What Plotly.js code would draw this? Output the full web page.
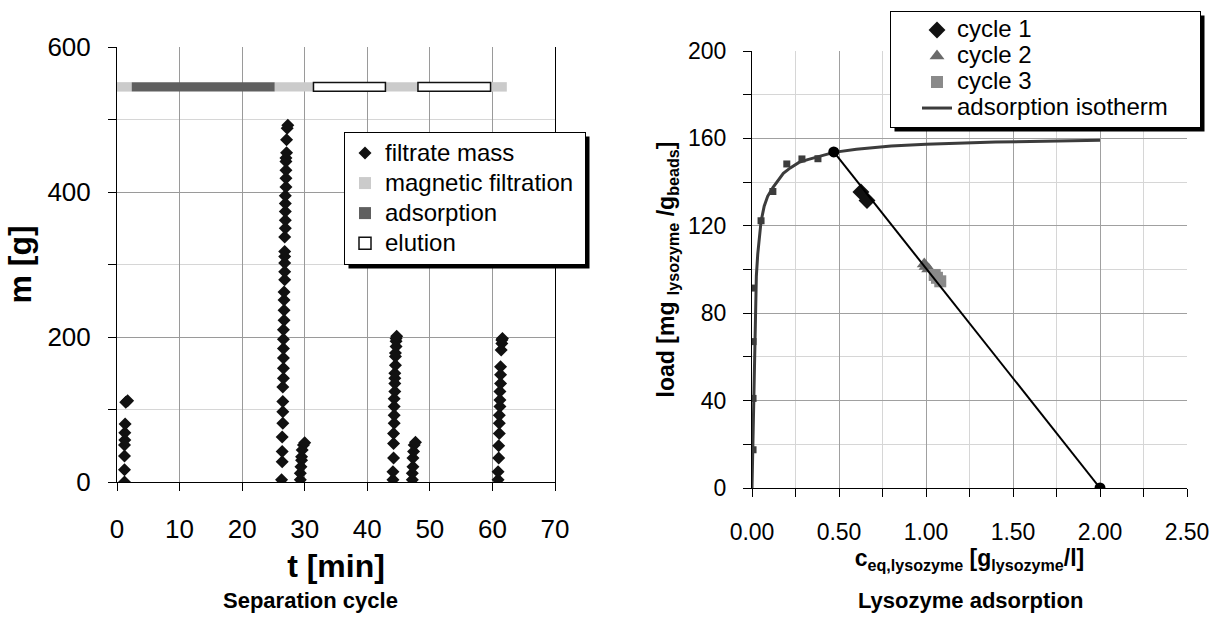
<!DOCTYPE html>
<html>
<head>
<meta charset="utf-8">
<script src="https://cdn.plot.ly/plotly-3.0.1.min.js"></script>
<style>html,body{margin:0;padding:0;background:#fff;} #chart{width:1220px;height:626px;}</style>
</head>
<body>
<div id="chart"></div>
<script>
// ---------- Left chart: separation cycle ----------
// filtrate mass runs (t in min, m in g)
const t1 = [1.2, 1.2, 1.2, 1.2, 1.25, 1.25, 1.3, 1.4, 1.7];
const m1 = [0, 17, 36, 51, 58, 68, 80, 110, 112];
const t2 = [26.3, 26.4, 26.4, 26.4, 26.5, 26.5, 26.5, 26.5, 26.6, 26.6, 26.6, 26.6, 26.6, 26.6, 26.7, 26.7, 26.7, 26.7, 26.8, 26.8, 26.8, 26.8, 26.8, 26.8, 26.9, 26.9, 26.9, 26.9, 26.9, 27.0, 27.0, 27.0, 27.0, 27.0, 27.1, 27.1, 27.2, 27.3];
const m2 = [3, 28, 42, 62, 81, 97, 111, 131, 143, 157, 171, 184, 197, 210, 223, 237, 251, 262, 279, 290, 302, 311, 318, 338, 350, 361, 373, 384, 395, 407, 419, 430, 442, 447, 454, 472, 488, 492];
const t3 = [29.3, 29.3, 29.4, 29.5, 29.5, 29.6, 29.8, 30.0];
const m3 = [3, 12, 21, 30, 35, 44, 51, 54];
const t4 = [44.1, 44.1, 44.2, 44.2, 44.2, 44.3, 44.3, 44.3, 44.3, 44.4, 44.4, 44.4, 44.4, 44.5, 44.5, 44.5, 44.6, 44.6, 44.6, 44.7];
const m4 = [3, 14, 33, 53, 67, 81, 92, 104, 115, 125, 136, 143, 150, 161, 173, 178, 187, 194, 198, 201];
const t5 = [47.2, 47.2, 47.3, 47.3, 47.4, 47.5, 47.7];
const m5 = [3, 12, 21, 33, 42, 51, 55];
const t6 = [60.9, 60.9, 61.0, 61.0, 61.1, 61.1, 61.1, 61.2, 61.2, 61.2, 61.3, 61.3, 61.3, 61.4, 61.5, 61.5, 61.6];
const m6 = [3, 14, 33, 50, 67, 81, 92, 104, 113, 125, 136, 148, 159, 182, 191, 196, 198];

// process phases (start / end in min)
const processLevel = 545;
const magneticStart = [0, 25.2, 42.9, 59.7];
const magneticEnd   = [2.35, 31.4, 48.1, 62.3];
const adsorptionStart = [2.35];
const adsorptionEnd   = [25.2];
const elutionStart = [31.4, 48.1];
const elutionEnd   = [42.9, 59.7];

// ---------- Right chart: lysozyme adsorption ----------
const cCycle1 = [0.626, 0.661];
const qCycle1 = [135.5, 131.6];
const cCycle2 = [0.99, 1.0, 1.015];
const qCycle2 = [102.5, 101.4, 100.2];
const cCycle3 = [1.05, 1.063, 1.082];
const qCycle3 = [97.5, 96.2, 94.6];
const cIso = [0, 0.003, 0.0075, 0.013, 0.0165, 0.019, 0.025, 0.033, 0.042, 0.052, 0.07, 0.09, 0.12, 0.15, 0.18, 0.22, 0.27, 0.32, 0.4, 0.47, 0.6, 0.8, 1.0, 1.2, 1.4, 1.6, 1.8, 2.0];
const qIso = [0, 14, 34, 58, 74, 86, 97, 107, 115, 122, 129, 133.5, 137.5, 141, 144, 146.5, 149, 150.3, 152.2, 153.6, 155, 156.5, 157.3, 157.9, 158.3, 158.6, 158.9, 159.2];
const cIsoData = [0.006, 0.006, 0.006, 0.006, 0.052, 0.12, 0.2, 0.287, 0.379];
const qIsoData = [17.5, 41, 67, 91.5, 122.3, 135.7, 148.3, 150.6, 150.7];
const cOperating = [0.47, 2.0];
const qOperating = [153.8, 0];

const FONT = 'Liberation Sans, Arial, sans-serif';
const W = 1220, H = 626;

function spans(starts, ends) { return ends.map((e, i) => e - starts[i]); }
function level(arr) { return arr.map(() => processLevel); }
function big(name, px) { return '<span style="font-size:' + px + 'px">' + name + '</span>'; }

const traces = [
  {
    type: 'scatter', mode: 'markers', name: big('filtrate mass', 24),
    x: [].concat(t1, t2, t3, t4, t5, t6), y: [].concat(m1, m2, m3, m4, m5, m6),
    marker: {symbol: 'diamond', size: 10, color: '#111'},
    xaxis: 'x', yaxis: 'y', legend: 'legend'
  },
  {
    type: 'bar', orientation: 'h', name: big('magnetic filtration&nbsp;', 24),
    base: magneticStart, x: spans(magneticStart, magneticEnd), y: level(magneticStart),
    width: 13, marker: {color: '#cbcbcb', line: {width: 0}},
    xaxis: 'x', yaxis: 'y', legend: 'legend'
  },
  {
    type: 'bar', orientation: 'h', name: big('adsorption', 24),
    base: adsorptionStart, x: spans(adsorptionStart, adsorptionEnd), y: level(adsorptionStart),
    width: 13, marker: {color: '#5f5f5f', line: {width: 0}},
    xaxis: 'x', yaxis: 'y', legend: 'legend'
  },
  {
    type: 'bar', orientation: 'h', name: big('elution', 24),
    base: elutionStart, x: spans(elutionStart, elutionEnd), y: level(elutionStart),
    width: 12, marker: {color: '#ffffff', line: {width: 1.5, color: '#111'}},
    xaxis: 'x', yaxis: 'y', legend: 'legend'
  },
  {
    type: 'scatter', mode: 'markers', name: big('cycle 1', 24),
    x: cCycle1, y: qCycle1, marker: {symbol: 'diamond', size: 13, color: '#111'},
    xaxis: 'x2', yaxis: 'y2', legend: 'legend2'
  },
  {
    type: 'scatter', mode: 'markers', name: big('cycle 2', 24),
    x: cCycle2, y: qCycle2, marker: {symbol: 'triangle-up', size: 13, color: '#6a6a6a'},
    xaxis: 'x2', yaxis: 'y2', legend: 'legend2'
  },
  {
    type: 'scatter', mode: 'markers', name: big('cycle 3', 24),
    x: cCycle3, y: qCycle3, marker: {symbol: 'square', size: 12, color: '#8a8a8a'},
    xaxis: 'x2', yaxis: 'y2', legend: 'legend2'
  },
  {
    type: 'scatter', mode: 'lines', name: big('adsorption isotherm&nbsp;&nbsp;&nbsp;&nbsp;', 24),
    x: cIso, y: qIso, line: {color: '#3c3c3c', width: 3},
    xaxis: 'x2', yaxis: 'y2', legend: 'legend2'
  },
  {
    type: 'scatter', mode: 'markers', name: 'isotherm data', showlegend: false,
    x: cIsoData, y: qIsoData, marker: {symbol: 'square', size: 7, color: '#3c3c3c'},
    xaxis: 'x2', yaxis: 'y2'
  },
  {
    type: 'scatter', mode: 'lines+markers', name: 'operating line', showlegend: false,
    x: cOperating, y: qOperating, line: {color: '#000', width: 2},
    marker: {symbol: 'circle', size: 11, color: '#000'},
    xaxis: 'x2', yaxis: 'y2'
  }
];

const axisCommon = {
  showline: true, linecolor: '#000', linewidth: 1, zeroline: false,
  ticks: 'outside', ticklen: 8, tickcolor: '#000', tickwidth: 1,
  showgrid: true, automargin: false, fixedrange: true
};

const layout = {
  width: W, height: H,
  margin: {l: 0, r: 0, t: 0, b: 0, pad: 0},
  paper_bgcolor: '#fff', plot_bgcolor: '#fff',
  font: {family: FONT, color: '#000'},
  barmode: 'overlay',
  showlegend: true,
  xaxis: Object.assign({}, axisCommon, {
    domain: [117 / W, 555 / W], range: [0, 70], dtick: 10, anchor: 'y',
    gridcolor: '#9a9a9a', tickfont: {size: 26}, ticklabelstandoff: 16,
    title: {text: '<b>t [min]</b>', font: {size: 32}, standoff: 11}
  }),
  yaxis: Object.assign({}, axisCommon, {
    domain: [1 - 482 / H, 1 - 47 / H], range: [0, 600], tickvals: [0, 200, 400, 600], anchor: 'x',
    gridcolor: '#9a9a9a', tickfont: {size: 26}, mirror: true, ticklabelstandoff: 12,
    minor: {dtick: 100, showgrid: true, gridcolor: '#d6d6d6', ticks: 'outside', ticklen: 8, tickcolor: '#000'},
    title: {text: '<b>m [g]</b>', font: {size: 32}, standoff: 6}
  }),
  xaxis2: Object.assign({}, axisCommon, {
    domain: [752 / W, 1187 / W], range: [0, 2.5], dtick: 0.5, tickformat: '.2f', anchor: 'y2',
    gridcolor: '#a0a0a0', tickfont: {size: 23}, ticklabelstandoff: 15,
    minor: {dtick: 0.25, showgrid: true, gridcolor: '#d6d6d6', ticks: 'outside', ticklen: 8, tickcolor: '#000'},
    title: {text: '<b>c<sub>eq,lysozyme</sub> [g<sub>lysozyme</sub>/l]</b>', font: {size: 23}, standoff: 6}
  }),
  yaxis2: Object.assign({}, axisCommon, {
    domain: [1 - 488 / H, 1 - 51 / H], range: [0, 200], dtick: 40, anchor: 'x2',
    gridcolor: '#a0a0a0', tickfont: {size: 23}, ticklabelstandoff: 12,
    minor: {dtick: 20, showgrid: true, gridcolor: '#d6d6d6', ticks: 'outside', ticklen: 8, tickcolor: '#000'},
    title: {text: '<b>load [mg <sub>lysozyme</sub> /g<sub>beads</sub>]</b>', font: {size: 23}, standoff: 6}
  }),
  legend: {
    x: 344 / W, y: 1 - 132 / H, xanchor: 'left', yanchor: 'top',
    bgcolor: '#fff', bordercolor: '#000', borderwidth: 1,
    font: {size: 20.8, family: FONT}, traceorder: 'normal', itemwidth: 30
  },
  legend2: {
    x: 890 / W, y: 1 - 11 / H, xanchor: 'left', yanchor: 'top',
    bgcolor: '#fff', bordercolor: '#000', borderwidth: 1,
    font: {size: 17.7, family: FONT}, traceorder: 'normal', itemwidth: 30, indentation: 26
  },
  shapes: [
    {type: 'line', xref: 'x', yref: 'y', x0: 0, x1: 70, y0: 500, y1: 500, line: {color: '#808080', width: 1}, layer: 'below'}
  ],
  annotations: [
    {text: '<b>Separation cycle</b>', xref: 'paper', yref: 'paper', x: 310 / W, y: 1 - 600 / H,
     showarrow: false, font: {size: 22}, xanchor: 'center', yanchor: 'middle'},
    {text: '<b>Lysozyme adsorption</b>', xref: 'paper', yref: 'paper', x: 970 / W, y: 1 - 600 / H,
     showarrow: false, font: {size: 22}, xanchor: 'center', yanchor: 'middle'}
  ]
};

Plotly.newPlot('chart', traces, layout, {staticPlot: true, displayModeBar: false}).then(function (gd) {
  // drop shadows behind the legend boxes
  const shadows = [];
  ['legend', 'legend2'].forEach(function (cls) {
    const bg = gd.querySelector('.infolayer .' + cls + ' rect.bg');
    if (!bg) return;
    const r = bg.getBoundingClientRect();
    const box = gd.getBoundingClientRect();
    const L = r.left - box.left, T = r.top - box.top, R = r.right - box.left, B = r.bottom - box.top;
    shadows.push({type: 'rect', xref: 'paper', yref: 'paper', layer: 'above',
      x0: (L + 4) / W, x1: (R + 4) / W, y0: 1 - (B + 4) / H, y1: 1 - (T + 4) / H,
      fillcolor: '#000', line: {width: 0}});
  });
  if (shadows.length) {
    return Plotly.relayout(gd, {shapes: layout.shapes.concat(shadows)});
  }
});
</script>
</body>
</html>
